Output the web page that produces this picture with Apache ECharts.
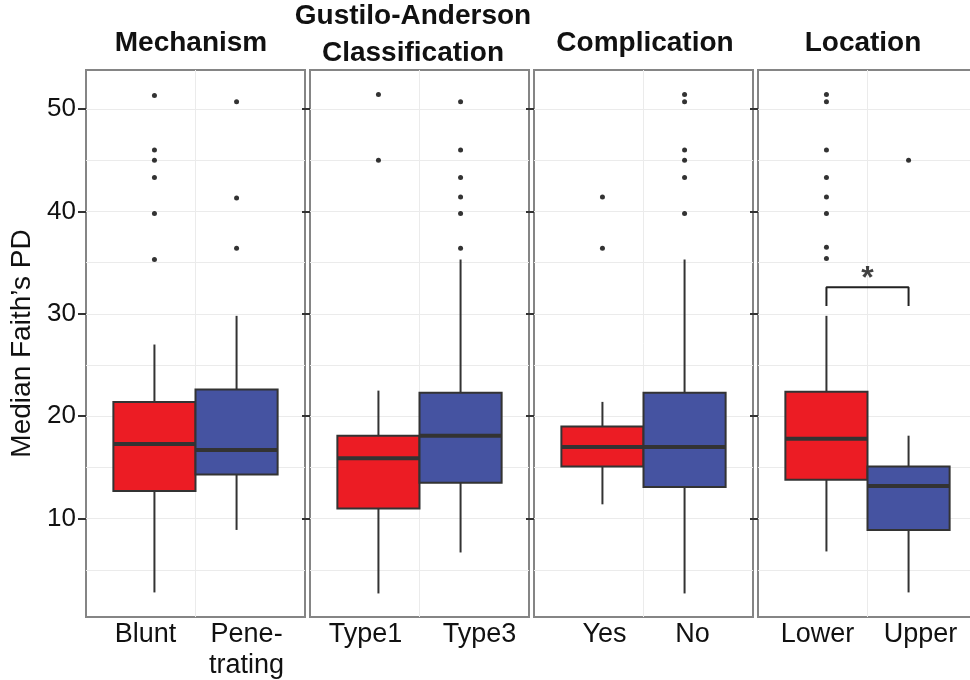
<!DOCTYPE html>
<html><head><meta charset="utf-8">
<script src="https://cdn.jsdelivr.net/npm/echarts@6/dist/echarts.min.js"></script>
<style>html,body{margin:0;padding:0;background:#fff}#c{width:970px;height:680px}</style>
</head><body><div id="c"></div>
<script>
// ---------------- data ----------------
const panelTitles = ['Mechanism', 'Gustilo-Anderson\nClassification', 'Complication', 'Location'];
const groupLabels = [['Blunt', 'Pene-\ntrating'], ['Type1', 'Type3'], ['Yes', 'No'], ['Lower', 'Upper']];
// [lower whisker, Q1, median, Q3, upper whisker]
const mechanismStats    = [[2.8, 12.7, 17.3, 21.4, 27.0], [8.9, 14.3, 16.7, 22.6, 29.8]];
const gustiloStats      = [[2.7, 11.0, 15.9, 18.1, 22.5], [6.7, 13.5, 18.1, 22.3, 35.3]];
const complicationStats = [[11.4, 15.1, 17.0, 19.0, 21.4], [2.7, 13.1, 17.0, 22.3, 35.3]];
const locationStats     = [[6.8, 13.8, 17.8, 22.4, 29.8], [2.8, 8.9, 13.2, 15.1, 18.1]];
const mechanismOutliers    = [[51.3, 46.0, 45.0, 43.3, 39.8, 35.3], [50.7, 41.3, 36.4]];
const gustiloOutliers      = [[51.4, 45.0], [50.7, 46.0, 43.3, 41.4, 39.8, 36.4]];
const complicationOutliers = [[41.4, 36.4], [51.4, 50.7, 46.0, 45.0, 43.3, 39.8]];
const locationOutliers     = [[51.4, 50.7, 46.0, 43.3, 41.4, 39.8, 36.5, 35.4], [45.0]];
const yTickValues = [10, 20, 30, 40, 50];
const yGridValues = [5, 10, 15, 20, 25, 30, 35, 40, 45, 50];
const bracketValues = [30.75, 32.6, 32.6, 30.75];   // Location significance bracket
const asteriskValue = 34.1;
const yAxisTitle = 'Median Faith\u2019s PD';

const allStats = [mechanismStats, gustiloStats, complicationStats, locationStats];
const allOutliers = [mechanismOutliers, gustiloOutliers, complicationOutliers, locationOutliers];

// ---------------- layout / style ----------------
const FONT = '"Liberation Sans", Arial, Helvetica, sans-serif';
const TEXT = '#111111';
const groupColors = ['#EC1C24', '#4553A1'];
const gridLeft0 = 86, gridStep = 224, gridWidth = 219, gridTop = 70, gridHeight = 547;
const X_MIN = 0.4, X_MAX = 1.6, CENTER = 1, DODGE = 0.225, BOX_W = 0.45;
const Y_MIN = 0.4, Y_MAX = 53.8;
const labelOffsets = [[-0.274, 0.28], [-0.296, 0.329], [-0.214, 0.268], [-0.274, 0.29]];
const titleX = [191, 413, 645, 863];
const titleY = [43.5, 34.5, 43.5, 43.5];

const grids = [], xAxes = [], yAxes = [], series = [];

function renderBox(params, api) {
  const x = api.value(0);
  const lo = api.coord([x, api.value(1)]);
  const q1 = api.coord([x, api.value(2)]);
  const md = api.coord([x, api.value(3)]);
  const q3 = api.coord([x, api.value(4)]);
  const hi = api.coord([x, api.value(5)]);
  const w = api.size([BOX_W, 0], [x, api.value(3)])[0];
  const color = groupColors[api.value(6)];
  const stroke = '#333333';
  return {
    type: 'group',
    children: [
      {type: 'line', shape: {x1: lo[0], y1: lo[1], x2: q1[0], y2: q1[1]}, style: {stroke, lineWidth: 2}},
      {type: 'line', shape: {x1: q3[0], y1: q3[1], x2: hi[0], y2: hi[1]}, style: {stroke, lineWidth: 2}},
      {type: 'rect', shape: {x: q3[0] - w / 2, y: q3[1], width: w, height: q1[1] - q3[1]},
        style: {fill: color, stroke, lineWidth: 2}},
      {type: 'line', shape: {x1: md[0] - w / 2, y1: md[1], x2: md[0] + w / 2, y2: md[1]},
        style: {stroke, lineWidth: 4}}
    ]
  };
}

for (let i = 0; i < 4; i++) {
  grids.push({
    left: gridLeft0 + i * gridStep, top: gridTop, width: gridWidth, height: gridHeight,
    outerBoundsMode: 'none', containLabel: false,
    show: true, borderColor: '#858585', borderWidth: 2, backgroundColor: '#ffffff'
  });
  const labels = groupLabels[i];
  const offs = labelOffsets[i];
  xAxes.push({
    type: 'value', gridIndex: i, min: X_MIN, max: X_MAX,
    axisLine: {show: false},
    axisTick: {show: false, customValues: [CENTER]},
    splitLine: {show: true, lineStyle: {color: '#ebebeb', width: 1}},
    axisLabel: {
      customValues: [CENTER + offs[0], CENTER + offs[1]],
      formatter: v => (v < CENTER ? labels[0] : labels[1]),
      fontSize: 27, fontFamily: FONT, color: TEXT, lineHeight: 31, margin: 2
    }
  });
  // axis for the series + grid lines
  yAxes.push({
    type: 'value', gridIndex: i, min: Y_MIN, max: Y_MAX, position: 'left',
    axisLine: {show: false},
    axisTick: {show: false, customValues: yGridValues},
    axisLabel: {show: false},
    splitLine: {show: true, lineStyle: {color: '#ebebeb', width: 1}}
  });
  // axis for ticks + labels
  yAxes.push({
    type: 'value', gridIndex: i, min: Y_MIN, max: Y_MAX, position: 'left',
    axisLine: {show: false},
    axisTick: {show: true, customValues: yTickValues, length: 8, lineStyle: {color: '#333333', width: 2}},
    axisLabel: {show: i === 0, customValues: yTickValues, fontSize: 26, fontFamily: FONT, color: TEXT, margin: 10},
    splitLine: {show: false},
    name: i === 0 ? yAxisTitle : '',
    nameLocation: 'middle', nameGap: 50,
    nameTextStyle: {fontSize: 28, fontFamily: FONT, color: TEXT}
  });

  const xs = [CENTER - DODGE, CENTER + DODGE];
  series.push({
    type: 'custom', xAxisIndex: i, yAxisIndex: 2 * i, z: 2,
    renderItem: renderBox,
    dimensions: ['x', 'lo', 'q1', 'med', 'q3', 'hi', 'grp'],
    encode: {x: 0, y: [1, 2, 3, 4, 5]},
    data: allStats[i].map((s, g) => [xs[g]].concat(s, [g])),
    silent: true
  });
  const pts = [];
  allOutliers[i].forEach((arr, g) => arr.forEach(v => pts.push([xs[g], v])));
  series.push({
    type: 'scatter', xAxisIndex: i, yAxisIndex: 2 * i, z: 3,
    symbol: 'circle', symbolSize: 5, itemStyle: {color: '#000000'},
    data: pts, silent: true
  });
  if (i === 3) {
    series.push({
      type: 'line', xAxisIndex: i, yAxisIndex: 2 * i, z: 4,
      symbol: 'none', lineStyle: {color: '#222222', width: 2},
      data: [[xs[0], bracketValues[0]], [xs[0], bracketValues[1]], [xs[1], bracketValues[2]], [xs[1], bracketValues[3]]],
      silent: true, animation: false
    });
    series.push({
      type: 'scatter', xAxisIndex: i, yAxisIndex: 2 * i, z: 4,
      symbolSize: 0, data: [[CENTER, asteriskValue]],
      label: {show: true, position: 'inside', formatter: '*', fontSize: 32, fontWeight: 'bold',
        fontFamily: FONT, color: TEXT, offset: [0, 7]},
      silent: true
    });
  }
}

const graphics = panelTitles.map((t, i) => ({
  type: 'text', x: titleX[i], y: titleY[i], z: 10,
  style: {
    text: t, fontSize: 28, fontWeight: 'bold', fontFamily: FONT, fill: TEXT,
    align: 'center', verticalAlign: 'middle', textAlign: 'center', textVerticalAlign: 'middle',
    lineHeight: 37
  }
}));

const chart = echarts.init(document.getElementById('c'), null, {renderer: 'canvas'});
chart.setOption({
  animation: false,
  backgroundColor: '#ffffff',
  grid: grids, xAxis: xAxes, yAxis: yAxes, series: series, graphic: graphics
});
</script>
</body></html>
